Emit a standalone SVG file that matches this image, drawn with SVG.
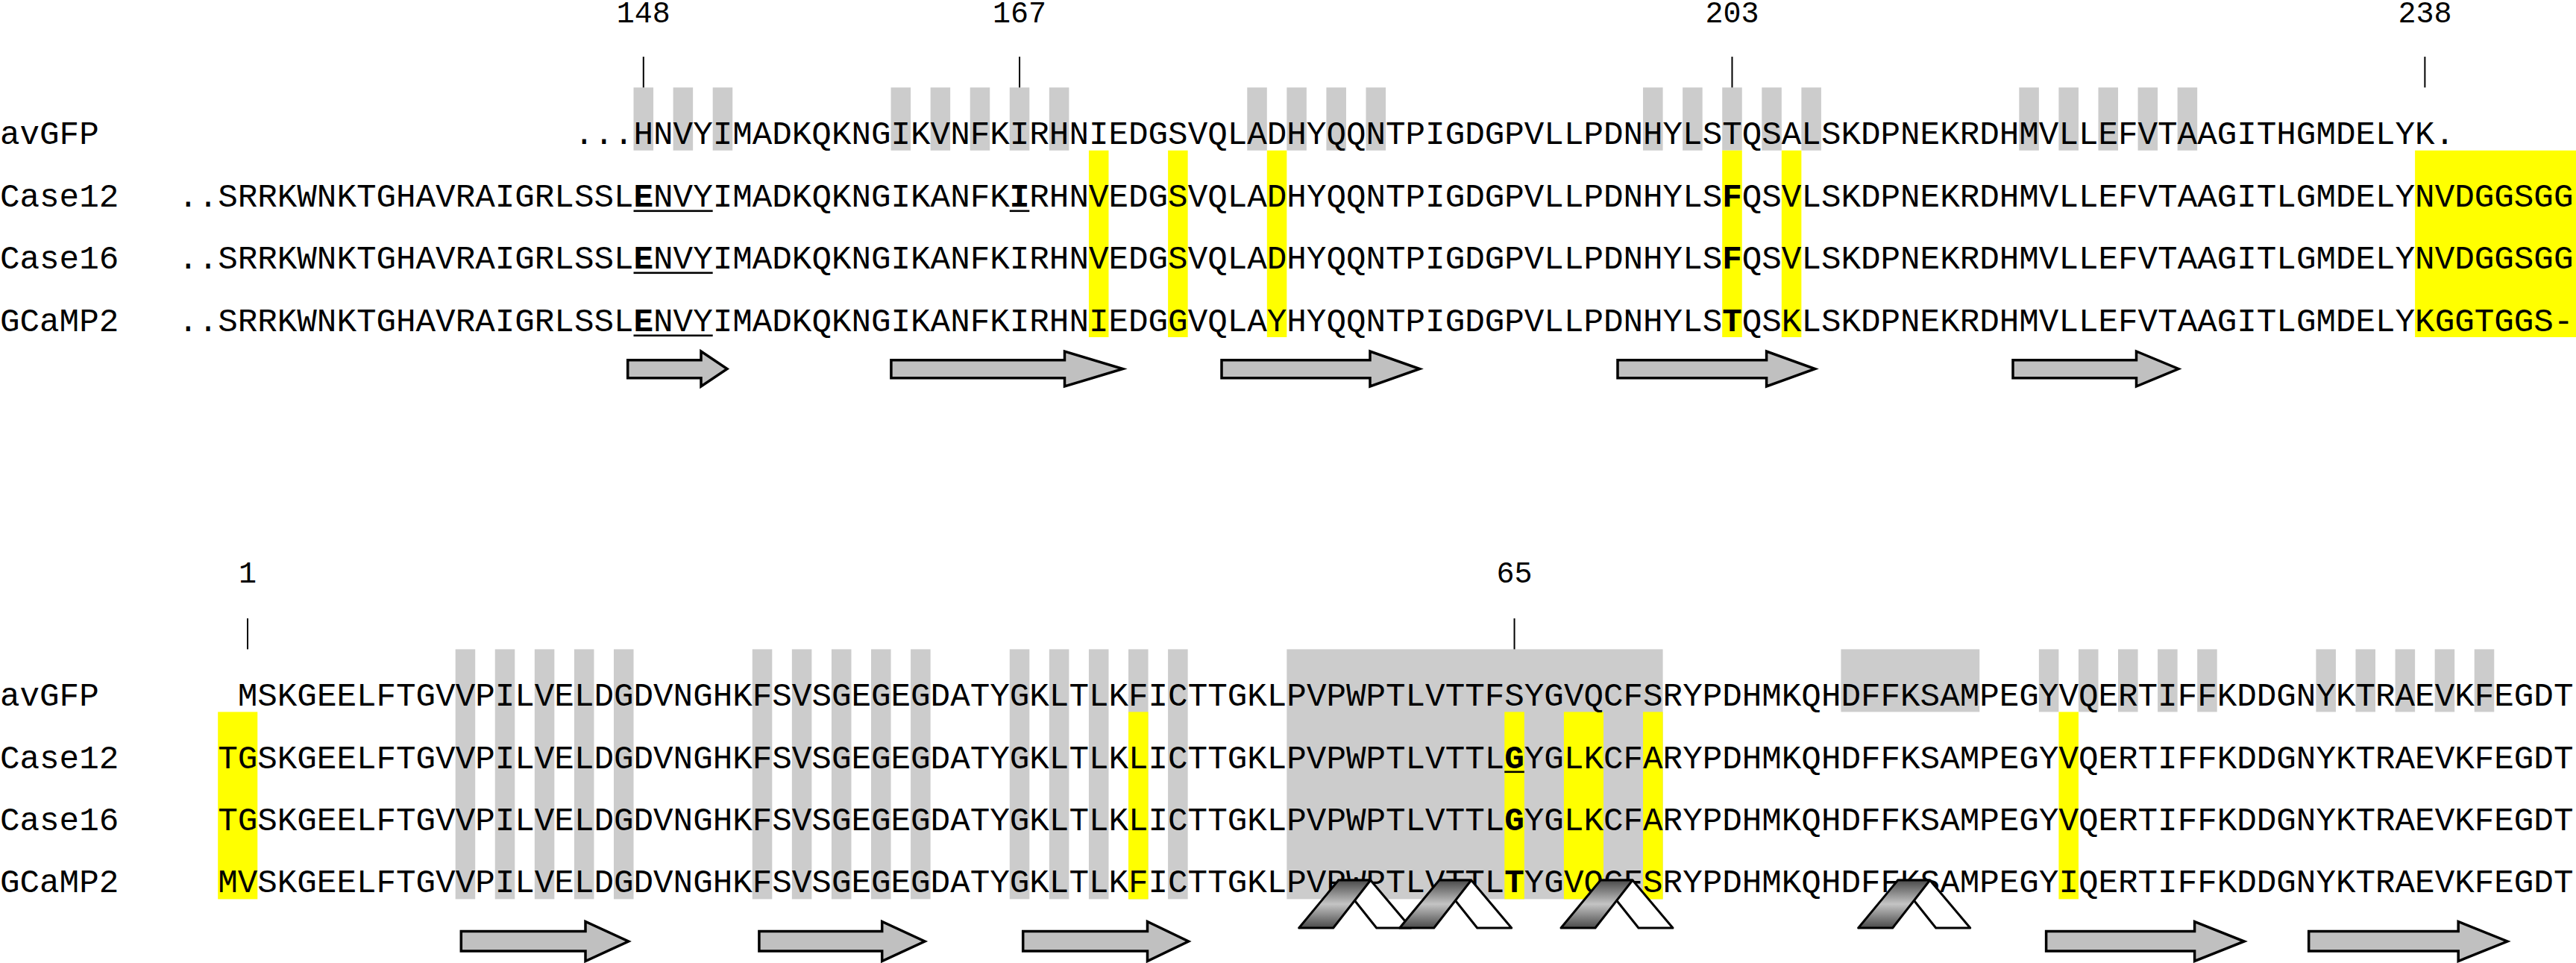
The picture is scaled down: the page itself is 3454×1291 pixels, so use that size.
<svg xmlns="http://www.w3.org/2000/svg" width="3454" height="1291" viewBox="0 0 3454 1291">
<style>
.t{font-family:"Liberation Mono","Courier New",monospace;font-size:44.23px;fill:#000}
.n{font-family:"Liberation Mono","Courier New",monospace;font-size:40px;fill:#000}
.b{font-weight:bold}
.g{fill:#cccccc}
.y{fill:#ffff00}
.tick{stroke:#000;stroke-width:2}
.ul{fill:#000}
.arr{fill:#c0c0c0;stroke:#000;stroke-width:3.5;stroke-linejoin:miter}
.hw{fill:#fff;stroke:#000;stroke-width:3;stroke-linejoin:round}
.hd{fill:url(#hg);stroke:#000;stroke-width:3;stroke-linejoin:round}
</style>
<defs>
<linearGradient id="hg" x1="0" y1="0" x2="0" y2="1">
<stop offset="0" stop-color="#4a4a4a"/>
<stop offset="0.5" stop-color="#c4c4c4"/>
<stop offset="1" stop-color="#4a4a4a"/>
</linearGradient>
<symbol id="helix" overflow="visible">
<polygon class="hw" points="53,0 96,0 150,64 104,64"/>
<polygon class="hd" points="0,64 46,64 96,0 53,0"/>
</symbol>
</defs>
<rect width="3454" height="1291" fill="#fff"/>

<g id="top-block">
<g id="top-shading">
<rect class="g" x="849.52" y="117.3" width="26.54" height="84.4"/>
<rect class="g" x="902.60" y="117.3" width="26.54" height="84.4"/>
<rect class="g" x="955.68" y="117.3" width="26.54" height="84.4"/>
<rect class="g" x="1194.54" y="117.3" width="26.54" height="84.4"/>
<rect class="g" x="1247.62" y="117.3" width="26.54" height="84.4"/>
<rect class="g" x="1300.70" y="117.3" width="26.54" height="84.4"/>
<rect class="g" x="1353.78" y="117.3" width="26.54" height="84.4"/>
<rect class="g" x="1406.86" y="117.3" width="26.54" height="84.4"/>
<rect class="g" x="1672.26" y="117.3" width="26.54" height="84.4"/>
<rect class="g" x="1725.34" y="117.3" width="26.54" height="84.4"/>
<rect class="g" x="1778.42" y="117.3" width="26.54" height="84.4"/>
<rect class="g" x="1831.50" y="117.3" width="26.54" height="84.4"/>
<rect class="g" x="2203.06" y="117.3" width="26.54" height="84.4"/>
<rect class="g" x="2256.14" y="117.3" width="26.54" height="84.4"/>
<rect class="g" x="2309.22" y="117.3" width="26.54" height="84.4"/>
<rect class="g" x="2362.30" y="117.3" width="26.54" height="84.4"/>
<rect class="g" x="2415.38" y="117.3" width="26.54" height="84.4"/>
<rect class="g" x="2707.32" y="117.3" width="26.54" height="84.4"/>
<rect class="g" x="2760.40" y="117.3" width="26.54" height="84.4"/>
<rect class="g" x="2813.48" y="117.3" width="26.54" height="84.4"/>
<rect class="g" x="2866.56" y="117.3" width="26.54" height="84.4"/>
<rect class="g" x="2919.64" y="117.3" width="26.54" height="84.4"/>
<rect class="y" x="1459.94" y="201.7" width="26.54" height="250.3"/>
<rect class="y" x="1566.10" y="201.7" width="26.54" height="250.3"/>
<rect class="y" x="1698.80" y="201.7" width="26.54" height="250.3"/>
<rect class="y" x="2309.22" y="201.7" width="26.54" height="250.3"/>
<rect class="y" x="2388.84" y="201.7" width="26.54" height="250.3"/>
<rect class="y" x="3238.12" y="201.7" width="215.88" height="250.3"/>
</g>
<g id="top-numbers">
<text class="n" x="862.79" y="30" text-anchor="middle">148</text>
<text class="n" x="1367.05" y="30" text-anchor="middle">167</text>
<text class="n" x="2322.49" y="30" text-anchor="middle">203</text>
<text class="n" x="3251.39" y="30" text-anchor="middle">238</text>
<line class="tick" x1="862.79" y1="76" x2="862.79" y2="117.3"/>
<line class="tick" x1="1367.05" y1="76" x2="1367.05" y2="117.3"/>
<line class="tick" x1="2322.49" y1="76" x2="2322.49" y2="117.3"/>
<line class="tick" x1="3251.39" y1="76" x2="3251.39" y2="117.3"/>
</g>
<g id="top-labels">
<text class="t" x="0" y="192.7">avGFP</text>
<text class="t" x="0" y="277">Case12</text>
<text class="t" x="0" y="360">Case16</text>
<text class="t" x="0" y="443.5">GCaMP2</text>
</g>
<g id="top-sequences">
<text class="t" x="769.90" y="192.7" textLength="2521.3" lengthAdjust="spacingAndGlyphs">...HNVYIMADKQKNGIKVNFKIRHNIEDGSVQLADHYQQNTPIGDGPVLLPDNHYLSTQSALSKDPNEKRDHMVLLEFVTAAGITHGMDELYK.</text>
<text class="t" x="239.1" y="277" textLength="3211.34" lengthAdjust="spacingAndGlyphs">..SRRKWNKTGHAVRAIGRLSSL<tspan class="b">E</tspan>NVYIMADKQKNGIKANFK<tspan class="b">I</tspan>RHNVEDGSVQLADHYQQNTPIGDGPVLLPDNHYLS<tspan class="b">F</tspan>QSVLSKDPNEKRDHMVLLEFVTAAGITLGMDELYNVDGGSGG</text>
<text class="t" x="239.1" y="360" textLength="3211.34" lengthAdjust="spacingAndGlyphs">..SRRKWNKTGHAVRAIGRLSSL<tspan class="b">E</tspan>NVYIMADKQKNGIKANFKIRHNVEDGSVQLADHYQQNTPIGDGPVLLPDNHYLS<tspan class="b">F</tspan>QSVLSKDPNEKRDHMVLLEFVTAAGITLGMDELYNVDGGSGG</text>
<text class="t" x="239.1" y="443.5" textLength="3211.34" lengthAdjust="spacingAndGlyphs">..SRRKWNKTGHAVRAIGRLSSL<tspan class="b">E</tspan>NVYIMADKQKNGIKANFKIRHNIEDGGVQLAYHYQQNTPIGDGPVLLPDNHYLS<tspan class="b">T</tspan>QSKLSKDPNEKRDHMVLLEFVTAAGITLGMDELYKGGTGGS-</text>
<rect class="ul" x="849.52" y="281.5" width="106.16" height="2.6"/>
<rect class="ul" x="1353.78" y="281.5" width="26.54" height="2.6"/>
<rect class="ul" x="849.52" y="364.5" width="106.16" height="2.6"/>
<rect class="ul" x="849.52" y="448.5" width="106.16" height="2.6"/>
</g>
<g id="top-strands">
<polygon class="arr" points="841.7,482.7 940,482.7 940,471 975,494.5 940,518 940,506.7 841.7,506.7"/>
<polygon class="arr" points="1194.9,482.7 1427.5,482.7 1427.5,471 1505.6,494.5 1427.5,518 1427.5,506.7 1194.9,506.7"/>
<polygon class="arr" points="1638,482.7 1837,482.7 1837,471 1903.6,494.5 1837,518 1837,506.7 1638,506.7"/>
<polygon class="arr" points="2169,482.7 2368.6,482.7 2368.6,471 2433.7,494.5 2368.6,518 2368.6,506.7 2169,506.7"/>
<polygon class="arr" points="2699,482.7 2864.5,482.7 2864.5,471 2921,494.5 2864.5,518 2864.5,506.7 2699,506.7"/>
</g>
</g>

<g id="bottom-block">
<g id="bottom-shading">
<rect class="g" x="610.66" y="870.4" width="26.54" height="335"/>
<rect class="g" x="663.74" y="870.4" width="26.54" height="335"/>
<rect class="g" x="716.82" y="870.4" width="26.54" height="335"/>
<rect class="g" x="769.90" y="870.4" width="26.54" height="335"/>
<rect class="g" x="822.98" y="870.4" width="26.54" height="335"/>
<rect class="g" x="1008.76" y="870.4" width="26.54" height="335"/>
<rect class="g" x="1061.84" y="870.4" width="26.54" height="335"/>
<rect class="g" x="1114.92" y="870.4" width="26.54" height="335"/>
<rect class="g" x="1168.00" y="870.4" width="26.54" height="335"/>
<rect class="g" x="1221.08" y="870.4" width="26.54" height="335"/>
<rect class="g" x="1353.78" y="870.4" width="26.54" height="335"/>
<rect class="g" x="1406.86" y="870.4" width="26.54" height="335"/>
<rect class="g" x="1459.94" y="870.4" width="26.54" height="335"/>
<rect class="g" x="1513.02" y="870.4" width="26.54" height="335"/>
<rect class="g" x="1566.10" y="870.4" width="26.54" height="335"/>
<rect class="g" x="1725.34" y="870.4" width="504.26" height="335"/>
<rect class="g" x="2468.46" y="870.4" width="185.78" height="84"/>
<rect class="g" x="2733.86" y="870.4" width="26.54" height="84"/>
<rect class="g" x="2786.94" y="870.4" width="26.54" height="84"/>
<rect class="g" x="2840.02" y="870.4" width="26.54" height="84"/>
<rect class="g" x="2893.10" y="870.4" width="26.54" height="84"/>
<rect class="g" x="2946.18" y="870.4" width="26.54" height="84"/>
<rect class="g" x="3105.42" y="870.4" width="26.54" height="84"/>
<rect class="g" x="3158.50" y="870.4" width="26.54" height="84"/>
<rect class="g" x="3211.58" y="870.4" width="26.54" height="84"/>
<rect class="g" x="3264.66" y="870.4" width="26.54" height="84"/>
<rect class="g" x="3317.74" y="870.4" width="26.54" height="84"/>
<rect class="y" x="292.18" y="954.4" width="53.08" height="251"/>
<rect class="y" x="1513.02" y="954.4" width="26.54" height="251"/>
<rect class="y" x="2017.28" y="954.4" width="26.54" height="251"/>
<rect class="y" x="2096.90" y="954.4" width="53.08" height="251"/>
<rect class="y" x="2203.06" y="954.4" width="26.54" height="251"/>
<rect class="y" x="2760.40" y="954.4" width="26.54" height="251"/>
</g>
<g id="bottom-numbers">
<text class="n" x="331.99" y="781" text-anchor="middle">1</text>
<text class="n" x="2030.55" y="781" text-anchor="middle">65</text>
<line class="tick" x1="331.99" y1="829" x2="331.99" y2="870.4"/>
<line class="tick" x1="2030.55" y1="829" x2="2030.55" y2="870.4"/>
</g>
<g id="bottom-labels">
<text class="t" x="0" y="945.8">avGFP</text>
<text class="t" x="0" y="1029.5">Case12</text>
<text class="t" x="0" y="1112.5">Case16</text>
<text class="t" x="0" y="1196">GCaMP2</text>
</g>
<g id="bottom-sequences">
<text class="t" x="318.72" y="945.8" textLength="3131.72" lengthAdjust="spacingAndGlyphs">MSKGEELFTGVVPILVELDGDVNGHKFSVSGEGEGDATYGKLTLKFICTTGKLPVPWPTLVTTFSYGVQCFSRYPDHMKQHDFFKSAMPEGYVQERTIFFKDDGNYKTRAEVKFEGDT</text>
<text class="t" x="292.18" y="1029.5" textLength="3158.26" lengthAdjust="spacingAndGlyphs">TGSKGEELFTGVVPILVELDGDVNGHKFSVSGEGEGDATYGKLTLKLICTTGKLPVPWPTLVTTL<tspan class="b">G</tspan>YGLKCFARYPDHMKQHDFFKSAMPEGYVQERTIFFKDDGNYKTRAEVKFEGDT</text>
<text class="t" x="292.18" y="1112.5" textLength="3158.26" lengthAdjust="spacingAndGlyphs">TGSKGEELFTGVVPILVELDGDVNGHKFSVSGEGEGDATYGKLTLKLICTTGKLPVPWPTLVTTL<tspan class="b">G</tspan>YGLKCFARYPDHMKQHDFFKSAMPEGYVQERTIFFKDDGNYKTRAEVKFEGDT</text>
<text class="t" x="292.18" y="1196" textLength="3158.26" lengthAdjust="spacingAndGlyphs">MVSKGEELFTGVVPILVELDGDVNGHKFSVSGEGEGDATYGKLTLKFICTTGKLPVPWPTLVTTL<tspan class="b">T</tspan>YGVQCFSRYPDHMKQHDFFKSAMPEGYIQERTIFFKDDGNYKTRAEVKFEGDT</text>
<rect class="ul" x="2017.28" y="1033.5" width="26.54" height="2.6"/>
</g>
<g id="bottom-helices">
<use href="#helix" x="1741.7" y="1180"/>
<use href="#helix" x="1876.7" y="1180"/>
<use href="#helix" x="2093" y="1180"/>
<use href="#helix" x="2491.7" y="1180"/>
</g>
<g id="bottom-strands">
<polygon class="arr" points="618.3,1248.5 785,1248.5 785,1235.5 842.7,1262 785,1288.5 785,1275 618.3,1275"/>
<polygon class="arr" points="1017.9,1248.5 1182.7,1248.5 1182.7,1235.5 1240,1262 1182.7,1288.5 1182.7,1275 1017.9,1275"/>
<polygon class="arr" points="1371.7,1248.5 1538.5,1248.5 1538.5,1235.5 1593.6,1262 1538.5,1288.5 1538.5,1275 1371.7,1275"/>
<polygon class="arr" points="2743.6,1248.5 2942.6,1248.5 2942.6,1235.5 3009.2,1262 2942.6,1288.5 2942.6,1275 2743.6,1275"/>
<polygon class="arr" points="3095.7,1248.5 3296.2,1248.5 3296.2,1235.5 3362,1262 3296.2,1288.5 3296.2,1275 3095.7,1275"/>
</g>
</g>
</svg>
